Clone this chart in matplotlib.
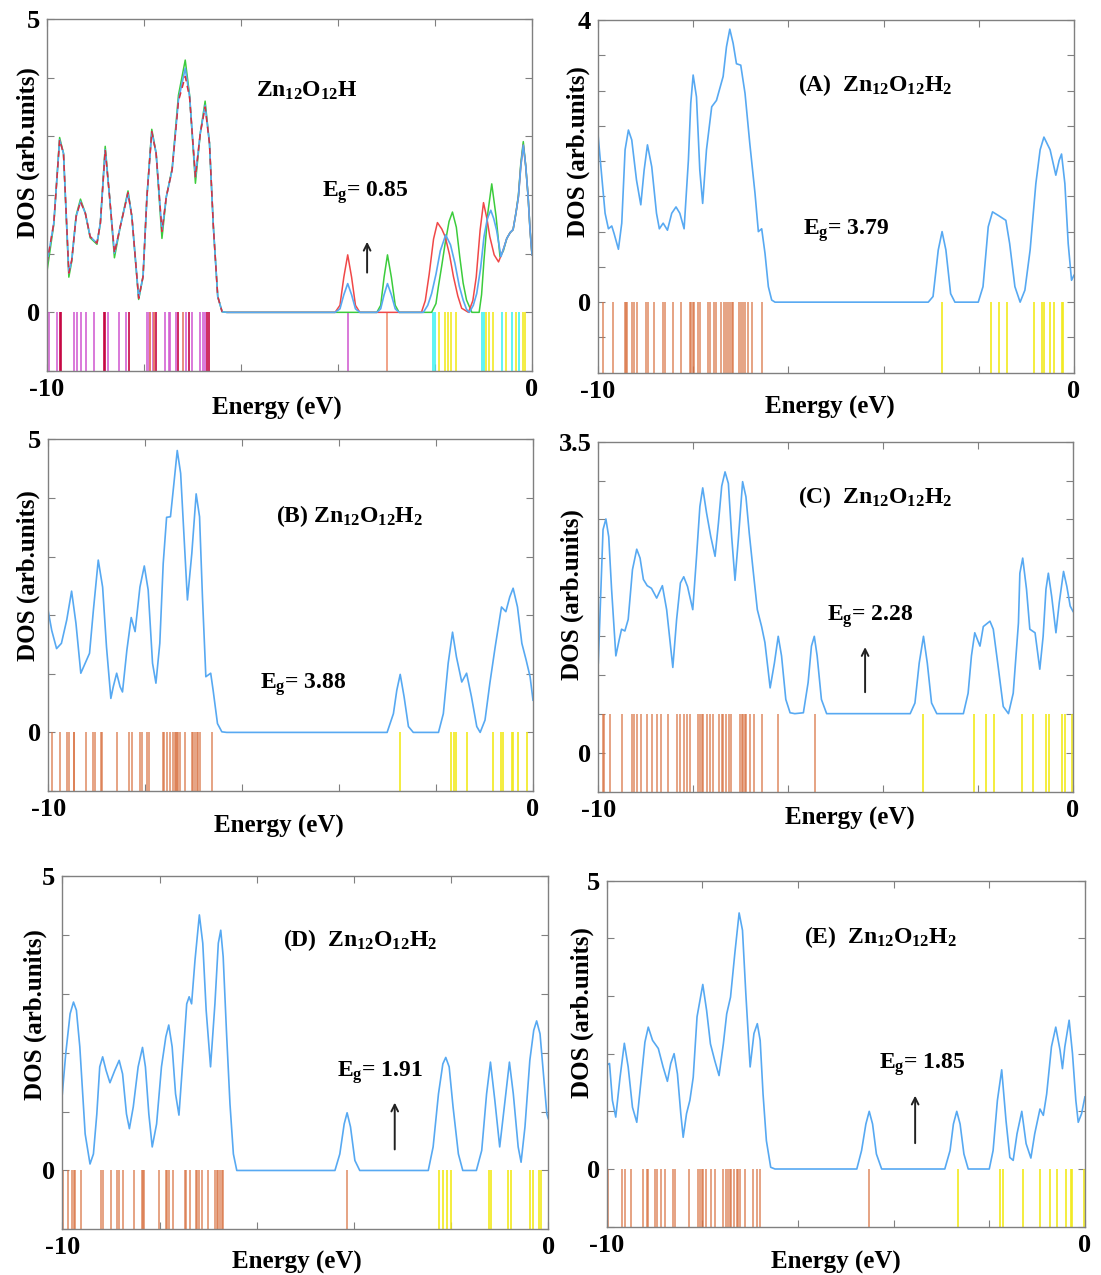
import numpy as np
import matplotlib.pyplot as plt

plt.rcParams['font.family'] = 'Liberation Serif'
plt.rcParams['font.weight'] = 'bold'
plt.rcParams['mathtext.fontset'] = 'custom'
plt.rcParams['mathtext.rm'] = 'Liberation Serif:bold'
plt.rcParams['mathtext.it'] = 'Liberation Serif:bold'
plt.rcParams['mathtext.bf'] = 'Liberation Serif:bold'

# ---------------- data ----------------
# top-left panel: Zn12O12H (three spin curves)
p1_val_energy = [-10.0, -9.86, -9.74, -9.66, -9.55, -9.49, -9.40, -9.31, -9.21, -9.11,
                 -8.97, -8.90, -8.80, -8.71, -8.61, -8.49, -8.33, -8.25, -8.11, -8.02,
                 -7.94, -7.84, -7.75, -7.63, -7.54, -7.42, -7.29, -7.15, -7.06, -6.94,
                 -6.84, -6.74, -6.65, -6.57, -6.48, -6.39]
p1_val_blue = [0.84, 1.52, 2.94, 2.71, 0.67, 0.89, 1.63, 1.89, 1.69, 1.29,
               1.18, 1.52, 2.77, 1.97, 1.01, 1.46, 2.04, 1.63, 0.24, 0.61,
               1.97, 3.08, 2.71, 1.38, 1.97, 2.43, 3.62, 4.16, 3.68, 2.31,
               3.05, 3.53, 2.88, 1.46, 0.27, 0.01]
p1_val_red = [0.84, 1.52, 2.94, 2.71, 0.67, 0.89, 1.63, 1.89, 1.69, 1.29,
              1.18, 1.52, 2.77, 1.97, 1.01, 1.46, 2.04, 1.63, 0.24, 0.61,
              1.97, 3.08, 2.71, 1.38, 1.97, 2.43, 3.60, 4.02, 3.66, 2.31,
              3.05, 3.50, 2.88, 1.46, 0.27, 0.01]
p1_val_green = [0.70, 1.50, 2.98, 2.71, 0.60, 0.87, 1.65, 1.93, 1.69, 1.27,
                1.16, 1.52, 2.83, 1.97, 0.93, 1.46, 2.07, 1.63, 0.22, 0.61,
                1.97, 3.12, 2.71, 1.26, 1.97, 2.45, 3.70, 4.30, 3.70, 2.20,
                3.05, 3.60, 2.88, 1.46, 0.27, 0.01]
p1_red_energy = [-6.29, -4.06, -3.96, -3.88, -3.80, -3.72, -3.64, -3.55, -2.28, -2.20,
                 -2.12, -2.03, -1.95, -1.86, -1.79, -1.70, -1.62, -1.53, -1.45, -1.31,
                 -1.22, -1.15, -1.07, -1.00, -0.93, -0.87, -0.78, -0.69, -0.60, -0.52,
                 -0.45, -0.39, -0.33, -0.28, -0.23, -0.18, -0.13, -0.08, -0.04, 0.0]
p1_red_dos = [0, 0, 0.12, 0.6, 0.98, 0.6, 0.12, 0, 0, 0.2,
              0.65, 1.25, 1.53, 1.42, 1.29, 0.98, 0.61, 0.28, 0.07, 0,
              0.2, 0.6, 1.4, 1.87, 1.6, 1.29, 0.98, 0.86, 1.05, 1.26,
              1.36, 1.41, 1.7, 1.97, 2.5, 2.85, 2.5, 1.97, 1.4, 0.98]
p1_green_energy = [-6.29, -3.20, -3.12, -3.05, -2.98, -2.90, -2.82, -2.74, -2.07, -1.98,
                   -1.93, -1.86, -1.79, -1.71, -1.64, -1.56, -1.49, -1.42, -1.35, -1.24,
                   -1.09, -1.04, -0.99, -0.91, -0.83, -0.74, -0.66, -0.59, -0.52, -0.45,
                   -0.39, -0.33, -0.28, -0.23, -0.18, -0.13, -0.08, -0.04, 0.0]
p1_green_dos = [0, 0, 0.12, 0.6, 0.98, 0.6, 0.12, 0, 0, 0.15,
                0.44, 0.8, 1.18, 1.55, 1.71, 1.45, 0.95, 0.5, 0.21, 0,
                0, 0.3, 0.89, 1.7, 2.19, 1.63, 0.95, 1.05, 1.26, 1.36,
                1.41, 1.7, 2.0, 2.55, 2.91, 2.5, 1.97, 1.4, 0.98]
p1_blue_energy = [-6.29, -4.06, -3.96, -3.88, -3.80, -3.72, -3.64, -3.55, -3.20, -3.12,
                  -3.05, -2.98, -2.90, -2.82, -2.74, -2.24, -2.15, -2.07, -1.98, -1.89,
                  -1.78, -1.68, -1.59, -1.50, -1.42, -1.35, -1.29, -1.21, -1.14, -1.06,
                  -0.99, -0.92, -0.85, -0.79, -0.73, -0.64, -0.58, -0.52, -0.45, -0.39,
                  -0.33, -0.28, -0.23, -0.18, -0.13, -0.08, -0.04, 0.0]
p1_blue_dos = [0, 0, 0.06, 0.3, 0.49, 0.3, 0.06, 0, 0, 0.06,
               0.3, 0.49, 0.3, 0.06, 0, 0, 0.12, 0.32, 0.65, 1.05,
               1.32, 1.15, 0.84, 0.45, 0.21, 0.05, 0, 0.12, 0.32, 0.75,
               1.29, 1.6, 1.74, 1.6, 1.40, 0.95, 1.1, 1.26, 1.36, 1.41,
               1.7, 1.97, 2.5, 2.85, 2.5, 1.97, 1.4, 0.98]
p1_sticks_magenta = [-9.95, -9.79, -9.44, -9.38, -9.29, -9.19, -9.04, -8.75, -8.52, -8.37,
                     -7.94, -7.90, -7.82, -7.56, -7.49, -7.46, -7.34, -7.20, -7.14, -7.01,
                     -6.85, -6.79, -6.74, -3.80]
p1_sticks_crimson = [-9.74, -9.71, -8.83, -8.80, -8.31, -7.87, -7.79, -7.75, -7.29, -7.08,
                     -6.70, -6.67]
p1_sticks_salmon = [-7.87, -7.79, -7.20, -2.98]
p1_sticks_cyan = [-2.05, -2.01, -1.04, -0.99, -0.61, -0.42, -0.26]
p1_sticks_yellow = [-1.91, -1.79, -1.73, -1.66, -1.57, -0.94, -0.88, -0.80, -0.54, -0.32,
                    -0.19, -0.14]

# (A)
a_energy = [-10.00, -9.92, -9.85, -9.78, -9.71, -9.66, -9.57, -9.50, -9.43, -9.36,
            -9.29, -9.19, -9.10, -9.03, -8.96, -8.87, -8.77, -8.71, -8.63, -8.54,
            -8.45, -8.36, -8.28, -8.19, -8.10, -8.05, -8.00, -7.93, -7.86, -7.80,
            -7.72, -7.61, -7.51, -7.37, -7.30, -7.23, -7.16, -7.09, -7.00, -6.91,
            -6.81, -6.70, -6.63, -6.56, -6.49, -6.42, -6.35, -6.28,
            -3.06, -2.96, -2.85, -2.77, -2.69, -2.59, -2.50, -2.01, -1.91, -1.80,
            -1.71, -1.59, -1.43, -1.35, -1.24, -1.13, -1.03, -0.92, -0.80, -0.71,
            -0.63, -0.50, -0.38, -0.31, -0.26, -0.19, -0.12, -0.05, 0.00]
a_dos = [2.39, 1.78, 1.26, 1.04, 1.08, 0.97, 0.75, 1.12, 2.16, 2.44,
         2.30, 1.73, 1.38, 1.87, 2.23, 1.92, 1.26, 1.04, 1.12, 1.02,
         1.26, 1.35, 1.26, 1.04, 2.01, 2.82, 3.22, 2.91, 1.87, 1.40,
         2.16, 2.77, 2.86, 3.20, 3.62, 3.87, 3.67, 3.38, 3.36, 2.96,
         2.25, 1.54, 1.00, 1.04, 0.69, 0.22, 0.03, 0.00,
         0.00, 0.08, 0.74, 1.00, 0.74, 0.12, 0.00, 0.00, 0.22, 1.07,
         1.28, 1.23, 1.16, 0.83, 0.22, 0.00, 0.17, 0.74, 1.68, 2.16,
         2.34, 2.16, 1.80, 2.01, 2.10, 1.68, 0.83, 0.31, 0.38]
a_occupied = [-9.90, -9.69, -9.43, -9.41, -9.38, -9.29, -9.24, -9.17, -8.99, -8.94,
              -8.82, -8.64, -8.59, -8.43, -8.26, -8.07, -8.05, -8.01, -7.98, -7.89,
              -7.86, -7.68, -7.65, -7.56, -7.51, -7.42, -7.35, -7.30, -7.26, -7.23,
              -7.19, -7.16, -7.03, -7.00, -6.96, -6.91, -6.84, -6.77, -6.56]
a_virtual = [-2.77, -1.75, -1.57, -1.40, -0.83, -0.68, -0.63, -0.50, -0.41, -0.26, -0.22]

# (B)
b_energy = [-10.00, -9.93, -9.83, -9.73, -9.62, -9.52, -9.43, -9.33, -9.24, -9.15,
            -9.07, -8.97, -8.88, -8.80, -8.71, -8.66, -8.59, -8.52, -8.47, -8.38,
            -8.29, -8.21, -8.11, -8.02, -7.94, -7.85, -7.78, -7.70, -7.63, -7.56,
            -7.48, -7.41, -7.34, -7.27, -7.20, -7.13, -7.04, -6.95, -6.88, -6.82,
            -6.75, -6.65, -6.60, -6.51, -6.42, -6.32,
            -3.01, -2.88, -2.81, -2.74, -2.66, -2.57, -2.47, -1.95, -1.85, -1.75,
            -1.66, -1.58, -1.47, -1.37, -1.27, -1.16, -1.09, -0.99, -0.89, -0.78,
            -0.65, -0.56, -0.48, -0.41, -0.32, -0.23, -0.14, -0.06, 0.00]
b_dos = [2.06, 1.74, 1.43, 1.52, 1.92, 2.41, 1.86, 1.01, 1.18, 1.35,
         2.09, 2.94, 2.48, 1.46, 0.58, 0.78, 1.01, 0.78, 0.69, 1.40,
         1.96, 1.72, 2.48, 2.84, 2.43, 1.18, 0.84, 1.52, 2.88, 3.67,
         3.68, 4.24, 4.81, 4.42, 3.34, 2.26, 3.05, 4.07, 3.68, 2.31,
         0.95, 1.01, 0.72, 0.15, 0.01, 0.00,
         0.00, 0.32, 0.72, 0.99, 0.61, 0.10, 0.00, 0.00, 0.32, 1.18,
         1.71, 1.29, 0.86, 1.01, 0.61, 0.10, 0.00, 0.21, 0.84, 1.46,
         2.14, 2.06, 2.31, 2.46, 2.14, 1.52, 1.23, 0.95, 0.55]
b_occupied = [-9.92, -9.75, -9.62, -9.57, -9.48, -9.47, -9.22, -9.07, -9.04, -8.92,
              -8.90, -8.59, -8.33, -8.28, -8.11, -8.07, -7.97, -7.92, -7.64, -7.61,
              -7.56, -7.49, -7.42, -7.39, -7.37, -7.34, -7.32, -7.28, -7.18, -7.04,
              -7.01, -6.97, -6.94, -6.91, -6.87, -6.63]
b_virtual = [-2.74, -1.70, -1.64, -1.59, -1.36, -0.82, -0.65, -0.61, -0.44, -0.41, -0.30, -0.13]

# (C)
c_energy = [-10.00, -9.95, -9.90, -9.84, -9.78, -9.72, -9.63, -9.56, -9.51, -9.44,
            -9.37, -9.28, -9.19, -9.12, -9.05, -8.97, -8.88, -8.77, -8.65, -8.56,
            -8.43, -8.35, -8.27, -8.20, -8.12, -8.01, -7.93, -7.86, -7.80, -7.72,
            -7.63, -7.54, -7.47, -7.40, -7.33, -7.26, -7.19, -7.12, -7.05, -6.96,
            -6.89, -6.82, -6.74, -6.65, -6.56, -6.49, -6.38, -6.29, -6.21, -6.14,
            -6.05, -5.96, -5.86, -5.68, -5.58, -5.51, -5.45, -5.39, -5.30, -5.19,
            -3.43, -3.33, -3.24, -3.15, -3.07, -2.98, -2.87, -2.31, -2.21, -2.14,
            -2.07, -1.96, -1.89, -1.75, -1.68, -1.57, -1.47, -1.36, -1.26, -1.15,
            -1.12, -1.06, -0.98, -0.91, -0.80, -0.70, -0.63, -0.57, -0.52, -0.45,
            -0.36, -0.29, -0.20, -0.13, -0.06, 0.00]
c_dos = [1.01, 1.76, 2.51, 2.63, 2.43, 1.84, 1.09, 1.27, 1.39, 1.37,
         1.50, 2.06, 2.29, 2.19, 1.95, 1.88, 1.85, 1.74, 1.88, 1.61,
         0.96, 1.50, 1.91, 1.98, 1.87, 1.61, 2.21, 2.77, 2.98, 2.70,
         2.43, 2.21, 2.58, 3.00, 3.16, 3.03, 2.43, 1.94, 2.40, 3.05,
         2.88, 2.47, 2.06, 1.61, 1.42, 1.24, 0.73, 1.01, 1.31, 1.09,
         0.60, 0.45, 0.44, 0.45, 0.79, 1.20, 1.31, 1.09, 0.60, 0.44,
         0.44, 0.56, 1.01, 1.31, 1.01, 0.56, 0.44, 0.44, 0.67, 1.09,
         1.35, 1.20, 1.42, 1.48, 1.39, 0.94, 0.52, 0.44, 0.67, 1.46,
         2.02, 2.19, 1.84, 1.39, 1.35, 0.94, 1.31, 1.84, 2.02, 1.76,
         1.35, 1.69, 2.04, 1.87, 1.65, 1.59]
c_occupied = [-9.90, -9.87, -9.75, -9.51, -9.30, -9.25, -9.18, -9.09, -8.97, -8.86,
              -8.77, -8.67, -8.53, -8.34, -8.27, -8.20, -8.14, -8.06, -7.89, -7.86,
              -7.82, -7.79, -7.72, -7.65, -7.58, -7.45, -7.40, -7.37, -7.30, -7.24,
              -7.21, -7.02, -6.98, -6.95, -6.91, -6.88, -6.81, -6.71, -6.56, -6.21,
              -5.44]
c_virtual = [-3.15, -2.08, -1.84, -1.66, -1.07, -0.84, -0.56, -0.51, -0.24, -0.17, -0.02]

# (D)
d_energy = [-10.00, -9.93, -9.84, -9.77, -9.71, -9.64, -9.53, -9.43, -9.36, -9.29,
            -9.23, -9.17, -9.10, -9.02, -8.92, -8.83, -8.76, -8.68, -8.62, -8.54,
            -8.44, -8.35, -8.29, -8.22, -8.15, -8.06, -7.96, -7.87, -7.81, -7.74,
            -7.67, -7.60, -7.52, -7.44, -7.39, -7.34, -7.27, -7.18, -7.11, -7.04,
            -6.95, -6.86, -6.79, -6.74, -6.69, -6.62, -6.55, -6.48, -6.41,
            -4.39, -4.29, -4.20, -4.14, -4.07, -3.98, -3.88, -2.47, -2.37, -2.26,
            -2.17, -2.11, -2.04, -1.96, -1.85, -1.76, -1.48, -1.37, -1.27, -1.19,
            -1.10, -1.00, -0.89, -0.80, -0.72, -0.62, -0.56, -0.48, -0.38, -0.30,
            -0.24, -0.17, -0.10, -0.03, 0.00]
d_dos = [1.30, 1.98, 2.66, 2.86, 2.72, 2.10, 0.62, 0.11, 0.28, 0.96,
         1.76, 1.93, 1.70, 1.49, 1.70, 1.87, 1.64, 0.96, 0.71, 1.08,
         1.76, 2.09, 1.76, 0.96, 0.40, 0.79, 1.76, 2.27, 2.47, 2.10,
         1.30, 0.94, 1.87, 2.83, 2.95, 2.83, 3.57, 4.34, 3.86, 2.72,
         1.76, 2.83, 3.86, 4.08, 3.63, 2.32, 1.13, 0.28, 0.00,
         0.00, 0.28, 0.79, 0.98, 0.74, 0.17, 0.00, 0.00, 0.40, 1.30,
         1.81, 1.92, 1.76, 1.08, 0.28, 0.00, 0.00, 0.34, 1.30, 1.84,
         1.19, 0.40, 1.19, 1.84, 1.30, 0.40, 0.14, 0.74, 1.87, 2.38,
         2.54, 2.32, 1.64, 0.96, 0.88]
d_occupied = [-9.98, -9.88, -9.81, -9.76, -9.74, -9.62, -9.21, -9.17, -8.99, -8.87,
              -8.83, -8.76, -8.52, -8.37, -8.35, -8.32, -8.01, -7.87, -7.84, -7.81,
              -7.72, -7.48, -7.46, -7.37, -7.25, -7.22, -7.18, -7.13, -7.00, -6.86,
              -6.82, -6.79, -6.76, -6.72, -6.69, -4.14]
d_virtual = [-2.24, -2.17, -2.09, -2.00, -1.21, -1.17, -0.82, -0.77, -0.38, -0.31, -0.19, -0.16]

# (E)
e_energy = [-10.00, -9.94, -9.88, -9.81, -9.72, -9.63, -9.55, -9.46, -9.37, -9.28,
            -9.20, -9.13, -9.04, -8.92, -8.82, -8.73, -8.66, -8.59, -8.52, -8.45,
            -8.40, -8.33, -8.26, -8.19, -8.11, -7.99, -7.91, -7.83, -7.74, -7.65,
            -7.56, -7.49, -7.41, -7.32, -7.23, -7.16, -7.09, -7.00, -6.92, -6.85,
            -6.79, -6.73, -6.66, -6.57, -6.48,
            -4.77, -4.67, -4.58, -4.51, -4.44, -4.36, -4.25, -2.93, -2.82, -2.75,
            -2.68, -2.61, -2.53, -2.44, -2.00, -1.92, -1.83, -1.74, -1.65, -1.57,
            -1.50, -1.42, -1.32, -1.23, -1.13, -1.05, -0.94, -0.87, -0.80, -0.70,
            -0.61, -0.52, -0.47, -0.42, -0.33, -0.26, -0.19, -0.14, -0.07, 0.00]
e_dos = [1.80, 1.83, 1.19, 0.90, 1.59, 2.18, 1.77, 1.07, 0.81, 1.54,
         2.20, 2.46, 2.23, 2.09, 1.77, 1.52, 1.83, 2.00, 1.65, 0.96,
         0.55, 0.96, 1.19, 1.59, 2.64, 3.20, 2.75, 2.17, 1.88, 1.62,
         2.17, 2.69, 2.98, 3.74, 4.44, 4.14, 3.04, 1.77, 2.35, 2.52,
         2.23, 1.30, 0.49, 0.03, 0.00,
         0.00, 0.32, 0.78, 1.00, 0.78, 0.26, 0.00, 0.00, 0.32, 0.78,
         1.00, 0.78, 0.26, 0.00, 0.00, 0.32, 1.19, 1.72, 0.84, 0.20,
         0.15, 0.61, 1.00, 0.44, 0.19, 0.61, 1.04, 0.93, 1.30, 2.12,
         2.46, 2.06, 1.74, 2.12, 2.58, 2.00, 1.19, 0.81, 0.96, 1.25]
e_occupied = [-9.99, -9.97, -9.67, -9.62, -9.49, -9.25, -9.16, -9.13, -8.99, -8.94,
              -8.87, -8.77, -8.62, -8.57, -8.27, -8.08, -8.05, -8.01, -7.98, -7.92,
              -7.81, -7.74, -7.56, -7.51, -7.47, -7.42, -7.39, -7.34, -7.28, -7.25,
              -7.21, -7.11, -6.93, -6.85, -6.79, -4.51]
e_virtual = [-2.66, -1.78, -1.71, -1.30, -0.93, -0.72, -0.59, -0.40, -0.30, -0.27, -0.02]

# ---------------- styling ----------------
CURVE = '#57a9f2'
BROWN = '#d8703f'
YELLOW = '#f2ea1e'
GREY = '#808080'

fig = plt.figure(figsize=(11.01, 12.75), dpi=100)


def make_axes(rect, ylim, ystep, toplabel, xlab_pos, ylab_pos):
    ax = fig.add_axes(rect)
    ax.set_xlim(-10, 0)
    ax.set_ylim(*ylim)
    ax.set_xticks(np.arange(-10, 0.1, 2))
    ax.set_xticklabels(['-10', '', '', '', '', '0'])
    yt = np.arange(ylim[0], ylim[1] + 1e-6, ystep)
    ax.set_yticks(yt)
    labels = []
    for v in yt:
        if abs(v) < 1e-9:
            labels.append('0')
        elif abs(v - ylim[1]) < 1e-9:
            labels.append(toplabel)
        else:
            labels.append('')
    ax.set_yticklabels(labels)
    ax.tick_params(direction='in', top=True, right=True, length=5, width=0.8,
                   color=GREY, labelsize=19, pad=5)
    for s in ax.spines.values():
        s.set_color(GREY)
        s.set_linewidth(1.0)
    ax.text(xlab_pos[0], xlab_pos[1], 'Energy (eV)', transform=ax.transAxes,
            ha='center', va='center', fontsize=18, fontweight='bold')
    ax.text(ylab_pos[0], ylab_pos[1], 'DOS (arb.units)', transform=ax.transAxes,
            ha='center', va='center', rotation=90, fontsize=18, fontweight='bold')
    return ax


def arrow(ax, x, y0, y1):
    ax.annotate('', xy=(x, y1), xytext=(x, y0),
                arrowprops=dict(arrowstyle='->', color='#222222', lw=1.4,
                                mutation_scale=12))


# ---- top-left: Zn12O12H
ax = make_axes([0.0427, 0.7090, 0.4405, 0.2761], (-1, 5), 1, '5',
               (0.474, -0.105), (-0.039, 0.62))
ax.vlines(p1_sticks_magenta, -1, 0, colors='#d25fd2', lw=1.3, alpha=0.9)
ax.vlines(p1_sticks_crimson, -1, 0, colors='#c4003f', lw=1.3, alpha=0.9)
ax.vlines(p1_sticks_salmon, -1, 0, colors='#ee9070', lw=1.3, alpha=0.9)
ax.vlines(p1_sticks_cyan, -1, 0, colors='#3ff2f2', lw=1.3, alpha=0.9)
ax.vlines(p1_sticks_yellow, -1, 0, colors=YELLOW, lw=1.3, alpha=0.9)
ax.plot(p1_val_energy + p1_green_energy, p1_val_green + p1_green_dos, color='#3ccc3c', lw=1.1)
ax.plot(p1_red_energy, p1_red_dos, color='#f04848', lw=1.1)
ax.plot(p1_val_energy + p1_blue_energy, p1_val_blue + p1_blue_dos, color=CURVE, lw=1.2)
ax.plot(p1_val_energy, p1_val_red, color='#d83040', lw=1.1, ls=(0, (4, 3)))
ax.text(-4.64, 3.78, r'$Zn_{12}O_{12}H$', ha='center', va='center', fontsize=17)
ax.text(-3.44, 2.04, r'$E_g$= 0.85', ha='center', va='center', fontsize=17)
arrow(ax, -3.40, 0.63, 1.25)

# ---- (A)
ax = make_axes([0.5431, 0.7077, 0.4323, 0.2766], (-1, 4), 0.5, '4',
               (0.487, -0.100), (-0.042, 0.626))
ax.vlines(a_occupied, -1, 0, colors=BROWN, lw=1.2, alpha=0.75)
ax.vlines(a_virtual, -1, 0, colors=YELLOW, lw=1.2)
ax.plot(a_energy, a_dos, color=CURVE, lw=1.2)
ax.text(-4.18, 3.08, r'(A)  $Zn_{12}O_{12}H_2$', ha='center', va='center', fontsize=17)
ax.text(-4.79, 1.02, r'$E_g$= 3.79', ha='center', va='center', fontsize=17)

# ---- (B)
ax = make_axes([0.0439, 0.3796, 0.4402, 0.2758], (-1, 5), 1, '5',
               (0.476, -0.102), (-0.042, 0.614))
ax.vlines(b_occupied, -1, 0, colors=BROWN, lw=1.2, alpha=0.75)
ax.vlines(b_virtual, -1, 0, colors=YELLOW, lw=1.2)
ax.plot(b_energy, b_dos, color=CURVE, lw=1.2)
ax.text(-3.78, 3.70, r'(B) $Zn_{12}O_{12}H_2$', ha='center', va='center', fontsize=17)
ax.text(-4.74, 0.81, r'$E_g$= 3.88', ha='center', va='center', fontsize=17)

# ---- (C)
ax = make_axes([0.5434, 0.3791, 0.4312, 0.2745], (-0.4375, 3.5), 0.4375, '3.5',
               (0.530, -0.078), (-0.055, 0.562))
ax.vlines(c_occupied, -0.4375, 0.4375, colors=BROWN, lw=1.2, alpha=0.75)
ax.vlines(c_virtual, -0.4375, 0.4375, colors=YELLOW, lw=1.2)
ax.plot(c_energy, c_dos, color=CURVE, lw=1.2)
ax.text(-4.17, 2.88, r'(C)  $Zn_{12}O_{12}H_2$', ha='center', va='center', fontsize=17)
ax.text(-4.28, 1.53, r'$E_g$= 2.28', ha='center', va='center', fontsize=17)
arrow(ax, -4.38, 0.65, 1.22)

# ---- (D)
ax = make_axes([0.0566, 0.0358, 0.4414, 0.2771], (-1, 5), 1, '5',
               (0.483, -0.093), (-0.056, 0.607))
ax.vlines(d_occupied, -1, 0, colors=BROWN, lw=1.2, alpha=0.75)
ax.vlines(d_virtual, -1, 0, colors=YELLOW, lw=1.2)
ax.plot(d_energy, d_dos, color=CURVE, lw=1.2)
ax.text(-3.87, 3.91, r'(D)  $Zn_{12}O_{12}H_2$', ha='center', va='center', fontsize=17)
ax.text(-3.46, 1.67, r'$E_g$= 1.91', ha='center', va='center', fontsize=17)
arrow(ax, -3.16, 0.31, 1.20)

# ---- (E)
ax = make_axes([0.5510, 0.0379, 0.4344, 0.2714], (-1, 5), 1, '5',
               (0.479, -0.102), (-0.050, 0.62))
ax.vlines(e_occupied, -1, 0, colors=BROWN, lw=1.2, alpha=0.75)
ax.vlines(e_virtual, -1, 0, colors=YELLOW, lw=1.2)
ax.plot(e_energy, e_dos, color=CURVE, lw=1.2)
ax.text(-4.27, 4.02, r'(E)  $Zn_{12}O_{12}H_2$', ha='center', va='center', fontsize=17)
ax.text(-3.41, 1.81, r'$E_g$= 1.85', ha='center', va='center', fontsize=17)
arrow(ax, -3.55, 0.40, 1.32)

fig.savefig('out.png', dpi=100)
